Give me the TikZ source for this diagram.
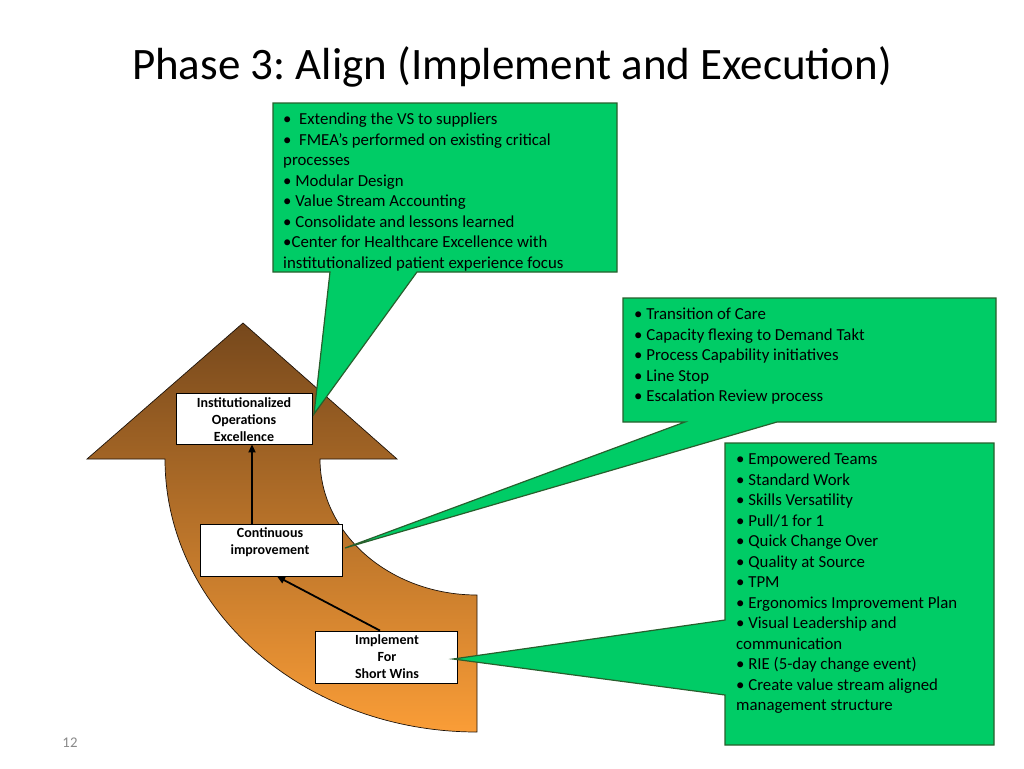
\documentclass[tikz,border=0pt]{standalone}
\usepackage{fontspec}
\setmainfont{Carlito}
\usetikzlibrary{arrows.meta}
\definecolor{cgreen}{RGB}{0,204,102}
\definecolor{cborder}{RGB}{40,95,45}
\definecolor{brtop}{RGB}{118,72,28}
\definecolor{brbot}{RGB}{250,157,55}
\definecolor{pgnum}{RGB}{137,137,137}
\frenchspacing
\begin{document}
\begin{tikzpicture}[x=1pt,y=-1pt,
  callout/.style={fill=cgreen, draw=cborder, line width=1.2pt, line join=miter},
  bodytext/.style={inner sep=0pt, anchor=north west, align=left, font=\fontsize{16.8}{20.5}\selectfont},
  labelbox/.style={draw=black, fill=white, line width=0.8pt, inner sep=0pt},
  labeltext/.style={inner sep=0pt, align=center, font=\fontsize{14}{17}\selectfont\bfseries},
  flow/.style={-{Triangle[length=8pt,width=7pt]}, line width=1.8pt, black}
]
\useasboundingbox (0,0) rectangle (1024,768);

% title
\node[anchor=base, inner sep=0pt, font=\fontsize{45}{50}\selectfont] (title) at (512,79) {Phase 3: Align (Implement and Execution)};

% curved arrow
\path[draw=black!85!brown, line width=0.7pt, top color=brtop, bottom color=brbot]
  (243,323) -- (397,459) -- (320,459)
  arc[start angle=180, end angle=90, x radius=157, y radius=136]
  -- (477,732)
  arc[start angle=90, end angle=180, x radius=312, y radius=273]
  -- (87,459) -- cycle;

% boxes
\node[labelbox, minimum width=136pt, minimum height=51pt] (ioe) at (244,418.5) {};
\node[labelbox, minimum width=142pt, minimum height=52pt] (ci) at (271,550) {};
\node[labelbox, minimum width=142pt, minimum height=52pt] (imp) at (386,657) {};
\node[labeltext] (ioeT) at (244,419.5) {Institutionalized\\Operations\\Excellence};
\node[labeltext] (ciT) at (270,542) {Continuous\\improvement};
\node[labeltext] (impT) at (387,657) {Implement\\For\\Short Wins};

% connectors
\draw[flow] ([xshift=-19pt]ci.north) -- ([xshift=8pt]ioe.south);
\draw[flow] ([xshift=-6pt]imp.north) -- ([xshift=6pt]ci.south);

% callouts
\coordinate (t1) at (314,414);
\coordinate (t2) at (345,548);
\coordinate (t3) at (453,659);
\draw[callout] (273,103) -- (617,103) -- (617,272) -- (417,272) -- (t1) -- (330,272) -- (273,272) -- cycle;
\draw[callout] (623,298) -- (996,298) -- (996,422) -- (777,422) -- (t2) -- (685,422) -- (623,422) -- cycle;
\draw[callout] (725,443) -- (994,443) -- (994,745) -- (725,745) -- (725,695) -- (t3) -- (725,620) -- cycle;

\node[bodytext] (c1) at (283,113) {•\ \ Extending the VS to suppliers\\
•\ \ FMEA’s performed on existing critical\\
processes\\
• Modular Design\\
• Value Stream Accounting\\
• Consolidate and lessons learned\\
•Center for Healthcare Excellence with\\
institutionalized patient experience focus};

\node[bodytext] (c2) at (634,308) {• Transition of Care\\
• Capacity flexing to Demand Takt\\
• Process Capability initiatives\\
• Line Stop\\
• Escalation Review process};

\node[bodytext] (c3) at (736,453) {• Empowered Teams\\
• Standard Work\\
• Skills Versatility\\
• Pull/1 for 1\\
• Quick Change Over\\
• Quality at Source\\
• TPM\\
• Ergonomics Improvement Plan\\
• Visual Leadership and\\
communication\\
• RIE (5-day change event)\\
• Create value stream aligned\\
management structure};

% page number
\node[inner sep=0pt, font=\fontsize{14.8}{17}\selectfont, text=pgnum] (pg) at (70,743) {12};
\end{tikzpicture}
\end{document}
